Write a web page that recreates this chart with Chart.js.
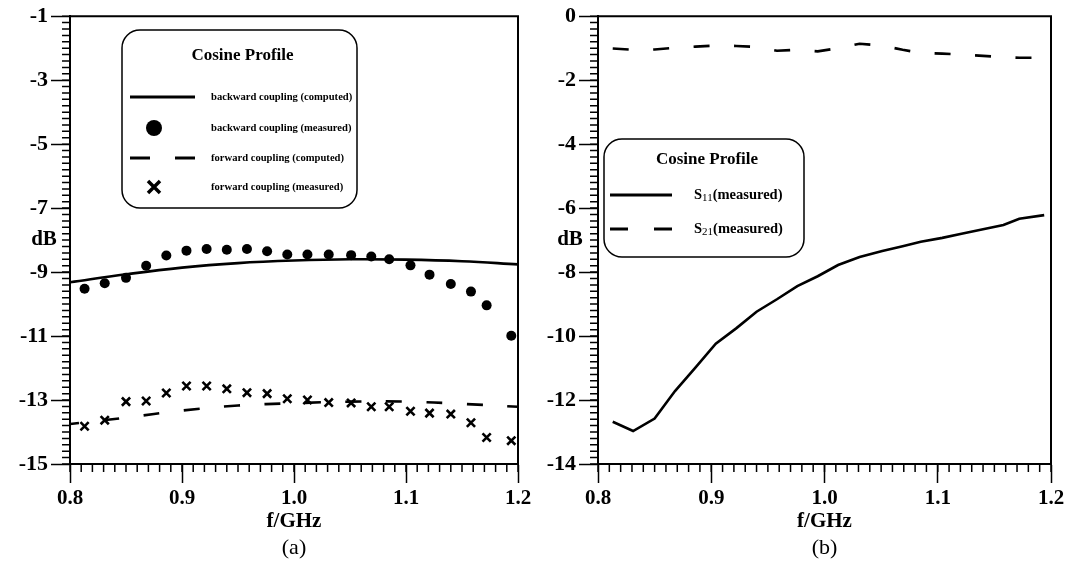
<!DOCTYPE html>
<html>
<head>
<meta charset="utf-8">
<script src="https://cdn.jsdelivr.net/npm/chart.js@4.4.1/dist/chart.umd.min.js"></script>
<style>
  html, body { margin: 0; padding: 0; background: #fff; }
  #wrap { position: relative; width: 1072px; height: 579px; overflow: hidden; background: #fff; }
  canvas { position: absolute; top: 0; }
  #panel-a { left: 0; }
  #panel-b { left: 536px; }
</style>
</head>
<body>
<div id="wrap">
  <canvas id="panel-a" width="536" height="579"></canvas>
  <canvas id="panel-b" width="536" height="579"></canvas>
</div>
<script>
// measured sweep points (GHz), shared by both panels
const freqMeasured = [0.813, 0.831, 0.850, 0.868, 0.886, 0.904, 0.922, 0.940, 0.958, 0.976, 0.994,
                      1.012, 1.031, 1.051, 1.069, 1.085, 1.104, 1.121, 1.140, 1.158, 1.172, 1.194];
// computed curves are sampled more coarsely
const freqComputed = [0.80, 0.85, 0.90, 0.95, 1.00, 1.05, 1.10, 1.15, 1.20];

// panel (a): coupling in dB
const backwardComputed = [-9.32, -9.07, -8.86, -8.72, -8.64, -8.60, -8.61, -8.66, -8.76];
const backwardMeasured = [-9.52, -9.35, -9.18, -8.80, -8.48, -8.33, -8.28, -8.30, -8.28, -8.35, -8.45,
                          -8.45, -8.45, -8.47, -8.51, -8.60, -8.79, -9.08, -9.37, -9.61, -10.04, -10.99];
const forwardComputed = [-13.75, -13.55, -13.33, -13.17, -13.10, -13.05, -13.05, -13.12, -13.21];
const forwardMeasured = [-13.82, -13.63, -13.05, -13.03, -12.78, -12.56, -12.56, -12.65, -12.77, -12.80, -12.96,
                         -13.00, -13.08, -13.09, -13.21, -13.21, -13.35, -13.41, -13.44, -13.71, -14.17, -14.27];

// panel (b): S-parameters in dB
const s11Measured = [-12.68, -12.97, -12.58, -11.72, -10.99, -10.24, -9.76, -9.24, -8.85, -8.44, -8.13,
                     -7.78, -7.53, -7.34, -7.19, -7.05, -6.93, -6.80, -6.66, -6.53, -6.33, -6.22];
const s21Measured = [-1.01, -1.05, -1.04, -0.99, -0.95, -0.92, -0.93, -0.96, -1.08, -1.05, -1.10,
                     -1.00, -0.86, -0.92, -1.05, -1.15, -1.17, -1.20, -1.24, -1.28, -1.30, -1.30];

const labelsA = ['backward coupling (computed)', 'backward coupling (measured)',
                 'forward coupling (computed)', 'forward coupling (measured)'];
const labelsB = ['S11(measured)', 'S21(measured)'];
const legendTitle = 'Cosine Profile';
const xTicks = { min: 0.8, max: 1.2, step: 0.1, minor: 0.01 };
const yTicksA = { min: -15, max: -1, step: 2, minor: 0.2 };
const yTicksB = { min: -14, max: 0, step: 2, minor: 0.2 };

const serif = '"Liberation Serif", "Times New Roman", serif';
const DASH = [16, 24.5];

function pts(xs, ys) {
  return xs.map((x, i) => ({ x: x, y: ys[i] }));
}

function lineSet(label, xs, ys, dash, dashOffset, tension) {
  return {
    label, data: pts(xs, ys), borderColor: '#000', borderWidth: 2.6,
    borderDash: dash || [], borderDashOffset: dashOffset || 0,
    pointRadius: 0, tension: tension || 0, fill: false,
  };
}

function markerSet(label, xs, ys, style, radius, width) {
  return {
    label, data: pts(xs, ys), showLine: false, pointStyle: style,
    pointRadius: radius, pointBorderWidth: width, borderColor: '#000',
    backgroundColor: '#000', pointBackgroundColor: '#000',
  };
}

function xAxis() {
  return {
    type: 'linear', min: xTicks.min, max: xTicks.max,
    ticks: {
      stepSize: xTicks.step, autoSkip: false, maxRotation: 0, padding: 3, color: '#000',
      font: { family: serif, size: 21, weight: 'bold' },
      callback: (v) => Number(v).toFixed(1),
    },
    grid: { drawOnChartArea: false, drawTicks: true, tickLength: 19, tickWidth: 1.5, tickColor: '#000' },
    border: { display: true, color: '#000', width: 2 },
    title: {
      display: true, text: 'f/GHz', color: '#000',
      font: { family: serif, size: 21, weight: 'bold' }, padding: { top: 0, bottom: 45 },
    },
    afterFit: (s) => { s.height = 115; },
  };
}

function yAxis(t, width) {
  return {
    type: 'linear', min: t.min, max: t.max,
    ticks: {
      stepSize: t.step, autoSkip: false, padding: 3, color: '#000',
      font: { family: serif, size: 22, weight: 'bold' },
    },
    grid: { drawOnChartArea: false, drawTicks: true, tickLength: 19, tickWidth: 1.5, tickColor: '#000' },
    border: { display: true, color: '#000', width: 2 },
    afterFit: (s) => { s.width = width; },
  };
}

function roundRect(ctx, x, y, w, h, r) {
  ctx.beginPath();
  ctx.moveTo(x + r, y);
  ctx.lineTo(x + w - r, y);
  ctx.arcTo(x + w, y, x + w, y + r, r);
  ctx.lineTo(x + w, y + h - r);
  ctx.arcTo(x + w, y + h, x + w - r, y + h, r);
  ctx.lineTo(x + r, y + h);
  ctx.arcTo(x, y + h, x, y + h - r, r);
  ctx.lineTo(x, y + r);
  ctx.arcTo(x, y, x + r, y, r);
  ctx.closePath();
}

// label text with an optional S-parameter subscript, e.g. S11(...)
function drawLabel(ctx, text, x, y, size) {
  const m = /^S(\d+)(.*)$/.exec(text);
  ctx.textAlign = 'left';
  ctx.textBaseline = 'middle';
  ctx.font = `bold ${size}px ${serif}`;
  if (!m) { ctx.fillText(text, x, y); return; }
  ctx.fillText('S', x, y);
  let cx = x + ctx.measureText('S').width;
  ctx.font = `${Math.round(size * 0.75)}px ${serif}`;
  ctx.fillText(m[1], cx, y + 3);
  cx += ctx.measureText(m[1]).width;
  ctx.font = `bold ${size}px ${serif}`;
  ctx.fillText(m[2], cx, y);
}

function drawLegend(chart, lg) {
  const ctx = chart.ctx;
  ctx.lineWidth = 1.5;
  ctx.strokeStyle = '#000';
  roundRect(ctx, lg.x, lg.y, lg.w, lg.h, lg.r);
  ctx.stroke();
  ctx.textAlign = 'center';
  ctx.textBaseline = 'middle';
  ctx.font = `bold 17px ${serif}`;
  ctx.fillText(legendTitle, lg.x + lg.w / 2 + 3, lg.titleY);

  chart.data.datasets.forEach((ds, i) => {
    const y = lg.rows[i];
    const x0 = lg.sampleX0, x1 = lg.sampleX1, cx = lg.markX;
    ctx.save();
    if (ds.showLine === false) {
      ctx.fillStyle = '#000';
      ctx.beginPath();
      if (ds.pointStyle === 'circle') {
        ctx.arc(cx, y, 8, 0, Math.PI * 2);
        ctx.fill();
      } else {
        ctx.lineWidth = 3.5;
        ctx.moveTo(cx - 6, y - 6); ctx.lineTo(cx + 6, y + 6);
        ctx.moveTo(cx + 6, y - 6); ctx.lineTo(cx - 6, y + 6);
        ctx.stroke();
      }
    } else {
      ctx.lineWidth = 3;
      ctx.setLineDash(ds.borderDash && ds.borderDash.length ? lg.dash : []);
      ctx.beginPath();
      ctx.moveTo(x0, y); ctx.lineTo(x1, y);
      ctx.stroke();
    }
    ctx.restore();
    drawLabel(ctx, ds.label, lg.textX, y, lg.font);
  });
}

const panelDecor = {
  id: 'panelDecor',
  afterDraw(chart, args, opts) {
    const ctx = chart.ctx;
    const { left, right, top, bottom } = chart.chartArea;
    const xs = chart.scales.x, ys = chart.scales.y;
    ctx.save();
    ctx.strokeStyle = '#000';
    ctx.fillStyle = '#000';

    // closing frame on top and right
    ctx.lineWidth = 2;
    ctx.beginPath();
    ctx.moveTo(left - 1, top);
    ctx.lineTo(right, top);
    ctx.lineTo(right, bottom + 1);
    ctx.stroke();

    // short minor ticks outside the axes
    ctx.lineWidth = 1.5;
    ctx.beginPath();
    const nx = Math.round((xs.max - xs.min) / opts.xMinor);
    for (let i = 0; i <= nx; i++) {
      const px = xs.getPixelForValue(xs.min + i * opts.xMinor);
      ctx.moveTo(px, bottom); ctx.lineTo(px, bottom + 8);
    }
    const ny = Math.round((ys.max - ys.min) / opts.yMinor);
    for (let i = 0; i <= ny; i++) {
      const py = ys.getPixelForValue(ys.min + i * opts.yMinor);
      ctx.moveTo(left, py); ctx.lineTo(left - 8, py);
    }
    ctx.stroke();

    // horizontal unit label beside the y axis
    ctx.textAlign = 'center';
    ctx.textBaseline = 'middle';
    ctx.font = `bold 21px ${serif}`;
    ctx.fillText('dB', opts.unitX, opts.unitY);

    // panel caption under the axis title
    ctx.font = `22px ${serif}`;
    ctx.fillText(opts.caption, (left + right) / 2, 548);

    drawLegend(chart, opts.legend);
    ctx.restore();
  },
};

Chart.defaults.font.family = serif;
Chart.defaults.color = '#000';

function makeChart(id, datasets, yTicks, yWidth, padRight, decor) {
  return new Chart(document.getElementById(id), {
    type: 'line',
    data: { datasets },
    options: {
      responsive: false, animation: false, devicePixelRatio: 1,
      layout: { padding: { left: 0, top: 15, right: padRight, bottom: 0 } },
      scales: { x: xAxis(), y: yAxis(yTicks, yWidth) },
      plugins: { legend: { display: false }, tooltip: { enabled: false }, panelDecor: decor },
    },
    plugins: [panelDecor],
  });
}

makeChart('panel-a', [
  lineSet(labelsA[0], freqComputed, backwardComputed, null, 0, 0.4),
  markerSet(labelsA[1], freqMeasured, backwardMeasured, 'circle', 5, 0),
  lineSet(labelsA[2], freqComputed, forwardComputed, DASH, 7, 0.4),
  markerSet(labelsA[3], freqMeasured, forwardMeasured, 'crossRot', 5.8, 2.6),
], yTicksA, 70, 18, {
  xMinor: xTicks.minor, yMinor: yTicksA.minor, unitX: 44, unitY: 240, caption: '(a)',
  legend: { x: 122, y: 30, w: 235, h: 178, r: 18, titleY: 56, rows: [97, 128, 158, 187],
            sampleX0: 130, sampleX1: 195, markX: 154, dash: [20, 25], textX: 211, font: 10.6 },
});

makeChart('panel-b', [
  lineSet(labelsB[0], freqMeasured, s11Measured, null, 0, 0),
  lineSet(labelsB[1], freqMeasured, s21Measured, DASH, 0, 0),
], yTicksB, 62, 21, {
  xMinor: xTicks.minor, yMinor: yTicksB.minor, unitX: 34, unitY: 240, caption: '(b)',
  legend: { x: 68, y: 139, w: 200, h: 118, r: 18, titleY: 160, rows: [195, 229],
            sampleX0: 74, sampleX1: 136, markX: 105, dash: [18, 26], textX: 158, font: 14.5 },
});
</script>
</body>
</html>
